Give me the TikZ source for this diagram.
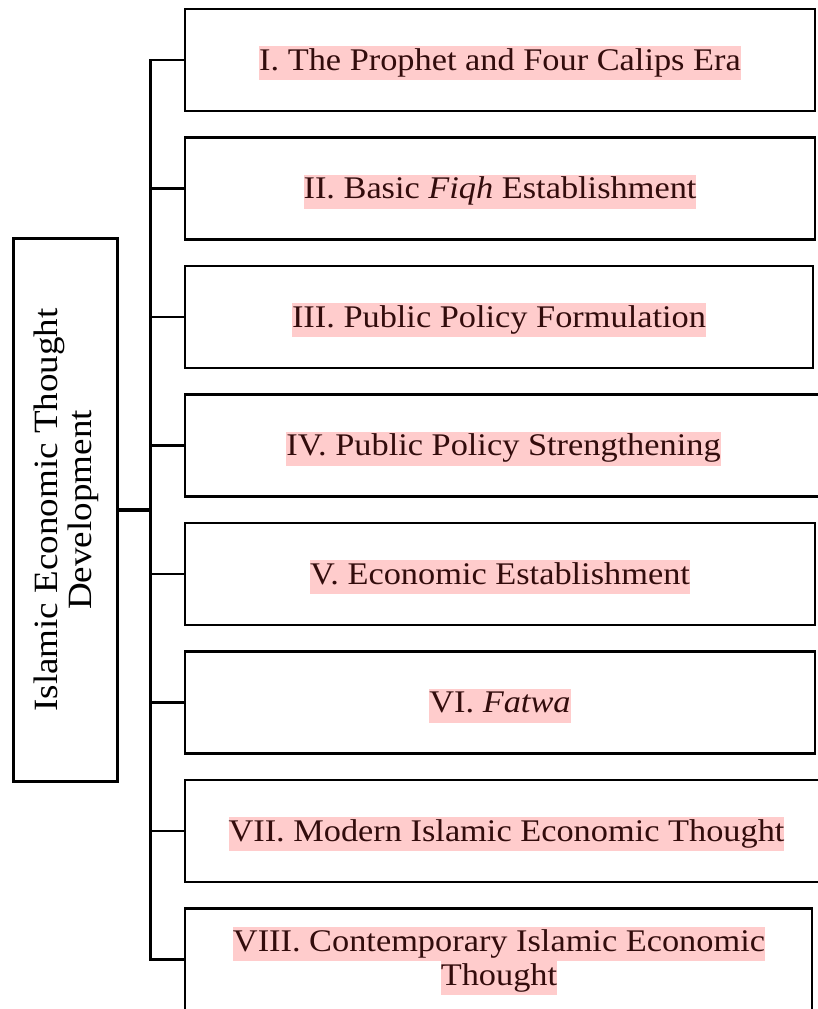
\documentclass[tikz,border=0pt]{standalone}
\usepackage{fontspec}
\setmainfont{Liberation Serif}[FakeStretch=1.09]
\definecolor{hlpink}{RGB}{255,204,204}
\definecolor{txt}{RGB}{50,12,12}
\begin{document}
\begin{tikzpicture}[x=1pt,y=-1pt,
  bx/.style={draw=black,line width=2.6pt,fill=white,inner sep=0pt,outer sep=0pt,anchor=north west,minimum height=102pt},
  hl/.style={fill=hlpink,text=txt,inner xsep=0pt,inner ysep=0pt,text height=24pt,text depth=10pt,font=\fontsize{31.5}{34}\selectfont},
  conn/.style={line width=2.2pt}]
\useasboundingbox (0,0) rectangle (818,1009);
\clip (0,0) rectangle (818,1009);
% left box
\node[draw=black,line width=2.6pt,inner sep=0pt,outer sep=0pt,anchor=north west,minimum width=104pt,minimum height=543pt] (L) at (13.5,238.5) {};
\node[rotate=90,align=center,font=\fontsize{34}{34}\selectfont] (Lt) at ([xshift=1pt]L.center) {Islamic Economic Thought\\Development};
% stage boxes
\node[bx,minimum width=630pt] (b1) at (185,9) {};
\node[bx,minimum width=630pt] (b2) at (185,137.5) {};
\node[bx,minimum width=628pt] (b3) at (185,266) {};
\node[bx,minimum width=637pt] (b4) at (185,394.5) {};
\node[bx,minimum width=630pt] (b5) at (185,523) {};
\node[bx,minimum width=630pt] (b6) at (185,651.5) {};
\node[bx,minimum width=643pt] (b7) at (185,780) {};
\node[bx,minimum width=627pt,minimum height=140pt] (b8) at (185,908.5) {};
% texts
\node[hl] (t1x) at ([yshift=-3pt]b1.center) {I. The Prophet and Four Calips Era};
\node[hl] (t2x) at ([yshift=-3pt]b2.center) {II. Basic \textit{Fiqh} Establishment};
\node[hl] (t3x) at ([yshift=-3pt]b3.center) {III. Public Policy Formulation};
\node[hl] (t4x) at ([yshift=-3pt]b4.center) {IV. Public Policy Strengthening};
\node[hl] (t5x) at ([yshift=-3pt]b5.center) {V. Economic Establishment};
\node[hl] (t6x) at ([yshift=-3pt]b6.center) {VI. \textit{Fatwa}};
\node[hl] (t7x) at ([yshift=-3pt]b7.center) {VII. Modern Islamic Economic Thought};
\node[hl] (t8x) at (499,944) {VIII. Contemporary Islamic Economic};
\node[hl] (t8y) at (499,978) {Thought};
% connectors
\coordinate (j1) at (150.5,60);
\coordinate (j2) at (150.5,188.5);
\coordinate (j3) at (150.5,317);
\coordinate (j4) at (150.5,445.5);
\coordinate (j5) at (150.5,574);
\coordinate (j6) at (150.5,702.5);
\coordinate (j7) at (150.5,831);
\coordinate (j8) at (150.5,959.5);
\coordinate (jm) at (150.5,510);
\draw[conn] (b1.west) -- (j1) -- (j8) -- (b8.west |- j8);
\foreach \i in {2,...,7} {\draw[conn] (j\i) -- (b\i.west);}
\draw[line width=3.5pt] (L.east) -- (jm);
\end{tikzpicture}
\end{document}
